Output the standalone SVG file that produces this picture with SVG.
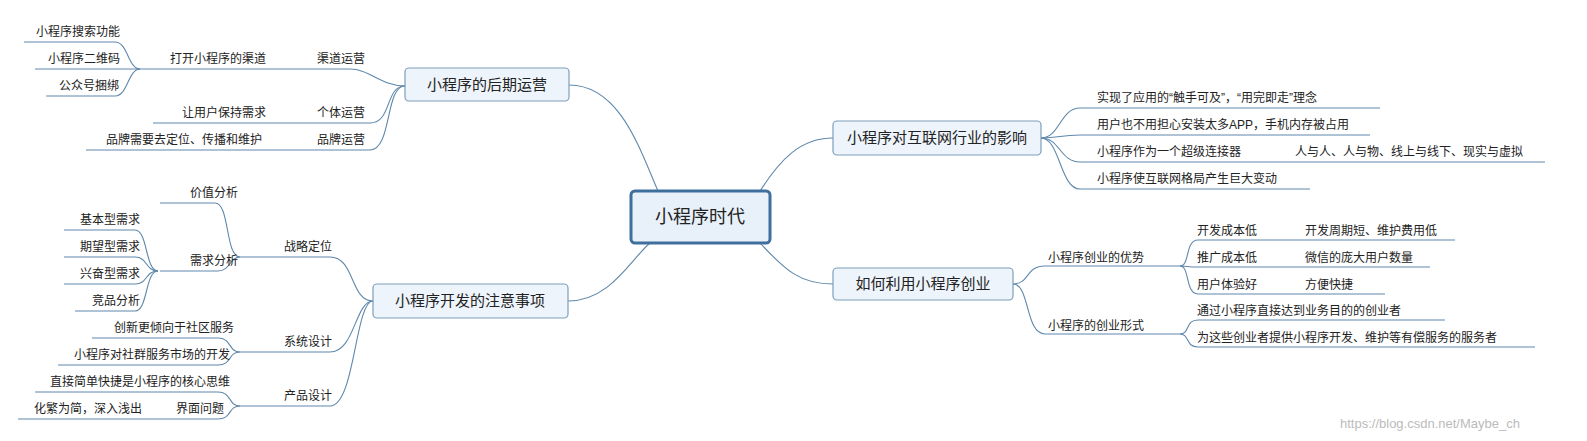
<svg xmlns="http://www.w3.org/2000/svg" width="1587" height="441" viewBox="0 0 1587 441">
<style>
text{font-family:"Liberation Sans","Noto Sans CJK SC",sans-serif;font-size:12px;fill:#222}
.t{font-size:15px;text-anchor:middle}
.c path{fill:none;stroke:#5f88ab;stroke-width:1.1}
.box{fill:#eef4fb;stroke:#7d9dbb;stroke-width:1.2}
.w{fill:#bbb;font-size:13px}
</style>
<rect width="1587" height="441" fill="#fff"/>
<g class="c">
<path d="M569 85 C620 85 640 150 658 191"/>
<path d="M568 301 C610 301 630 260 650 243"/>
<path d="M760 191 C780 160 800 138 833 138"/>
<path d="M760 243 C785 270 800 284 833 284"/>
<!-- upper left -->
<path d="M405 86 C380 86 370 69 350 69 L35 69"/>
<path d="M140 69 C128 69 128 42 115 42 L24 42"/>
<path d="M140 69 C128 69 128 96 115 96 L46 96"/>
<path d="M405 86 C385 86 392 123 370 123 L153 123"/>
<path d="M405 86 C385 86 392 150 370 150 L86 150"/>
<!-- lower left -->
<path d="M373 301 C350 301 355 257 330 257 L240 257"/>
<path d="M240 257 C225 257 230 203 215 203 L160 203"/>
<path d="M240 257 C230 257 230 271 218 271 L160 271"/>
<path d="M158 271 C145 271 148 230 135 230 L64 230"/>
<path d="M158 271 C145 271 148 257 135 257 L64 257"/>
<path d="M158 271 C145 271 148 284 135 284 L64 284"/>
<path d="M158 271 C145 271 148 311 135 311 L75 311"/>
<path d="M373 301 C355 301 355 352 330 352 L240 352"/>
<path d="M240 352 C228 352 232 338 218 338 L92 338"/>
<path d="M240 352 C228 352 232 365 218 365 L58 365"/>
<path d="M373 301 C355 301 355 406 330 406 L240 406"/>
<path d="M240 406 C228 406 232 392 218 392 L35 392"/>
<path d="M240 406 C228 406 232 419 218 419 L18 419"/>
<!-- upper right -->
<path d="M1041 138 C1060 138 1060 108 1080 108 L1380 108"/>
<path d="M1041 138 C1060 138 1060 135 1080 135 L1370 135"/>
<path d="M1041 138 C1060 138 1060 162 1080 162 L1545 162"/>
<path d="M1041 138 C1060 138 1060 189 1080 189 L1310 189"/>
<!-- lower right -->
<path d="M1013 284 C1030 284 1025 266 1045 266 L1180 266"/>
<path d="M1013 284 C1030 284 1025 334 1045 334 L1180 334"/>
<path d="M1180 266 C1190 266 1185 240 1198 240 L1455 240"/>
<path d="M1180 266 C1190 266 1185 267 1198 267 L1430 267"/>
<path d="M1180 266 C1190 266 1185 294 1198 294 L1385 294"/>
<path d="M1180 334 C1190 334 1185 320 1198 320 L1445 320"/>
<path d="M1180 334 C1190 334 1185 347 1198 347 L1535 347"/>
</g>
<g id="root"><rect x="631" y="191" width="139" height="52" rx="4" fill="#e8f0fa" stroke="#3f6f9c" stroke-width="3"/><text x="700" y="223" class="t" style="font-size:18px">小程序时代</text></g>
<g id="n1"><rect class="box" x="405" y="68" width="164" height="33" rx="4"/><text class="t" x="487" y="90">小程序的后期运营</text></g>
<g id="n2"><rect class="box" x="373" y="284" width="195" height="34" rx="4"/><text class="t" x="470" y="306">小程序开发的注意事项</text></g>
<g id="n3"><rect class="box" x="833" y="121" width="208" height="34" rx="4"/><text class="t" x="937" y="143">小程序对互联网行业的影响</text></g>
<g id="n4"><rect class="box" x="833" y="268" width="180" height="32" rx="4"/><text class="t" x="923" y="289">如何利用小程序创业</text></g>
<g id="labels">
<text x="317" y="63">渠道运营</text><text x="170" y="63">打开小程序的渠道</text>
<text x="36" y="36">小程序搜索功能</text><text x="48" y="63">小程序二维码</text><text x="59" y="90">公众号捆绑</text>
<text x="317" y="117">个体运营</text><text x="182" y="117">让用户保持需求</text>
<text x="317" y="144">品牌运营</text><text x="106" y="144">品牌需要去定位、传播和维护</text>
<text x="284" y="251">战略定位</text><text x="190" y="197">价值分析</text><text x="190" y="265">需求分析</text>
<text x="80" y="224">基本型需求</text><text x="80" y="251">期望型需求</text><text x="80" y="278">兴奋型需求</text><text x="92" y="305">竞品分析</text>
<text x="284" y="346">系统设计</text><text x="114" y="332">创新更倾向于社区服务</text><text x="74" y="359">小程序对社群服务市场的开发</text>
<text x="284" y="400">产品设计</text><text x="50" y="386">直接简单快捷是小程序的核心思维</text><text x="176" y="413">界面问题</text><text x="34" y="413">化繁为简，深入浅出</text>
<text x="1097" y="102">实现了应用的“触手可及”，“用完即走”理念</text>
<text x="1097" y="129">用户也不用担心安装太多APP，手机内存被占用</text>
<text x="1097" y="156">小程序作为一个超级连接器</text><text x="1295" y="156">人与人、人与物、线上与线下、现实与虚拟</text>
<text x="1097" y="183">小程序使互联网格局产生巨大变动</text>
<text x="1048" y="262">小程序创业的优势</text><text x="1048" y="330">小程序的创业形式</text>
<text x="1197" y="235">开发成本低</text><text x="1305" y="235">开发周期短、维护费用低</text>
<text x="1197" y="262">推广成本低</text><text x="1305" y="262">微信的庞大用户数量</text>
<text x="1197" y="289">用户体验好</text><text x="1305" y="289">方便快捷</text>
<text x="1197" y="315">通过小程序直接达到业务目的的创业者</text>
<text x="1197" y="342">为这些创业者提供小程序开发、维护等有偿服务的服务者</text>
</g>
<text class="w" x="1340" y="428">https://blog.csdn.net/Maybe_ch</text>
</svg>
